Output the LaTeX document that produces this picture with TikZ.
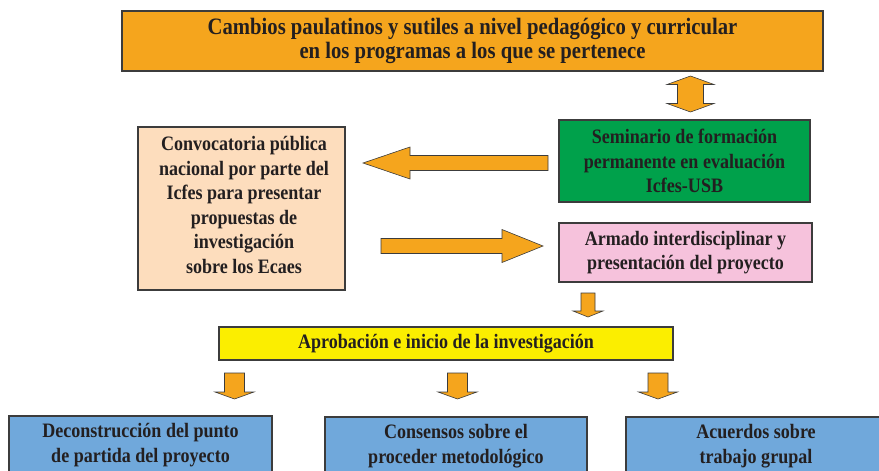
\documentclass[tikz,border=0pt]{standalone}
\usepackage{fontspec}
\setmainfont[FakeStretch=0.88]{Liberation Serif}
\usetikzlibrary{calc}
\definecolor{boxorange}{HTML}{F5A51D}
\definecolor{boxgreen}{HTML}{00A14B}
\definecolor{boxpink}{HTML}{F6C2DC}
\definecolor{boxpeach}{HTML}{FDDDBD}
\definecolor{boxyellow}{HTML}{FBEE00}
\definecolor{boxblue}{HTML}{70A8DB}
\definecolor{boxline}{HTML}{3C3C3C}
\definecolor{ink}{HTML}{231F20}
\tikzset{
  box/.style={draw=boxline, line width=1.2pt, text=ink, align=center, inner sep=0pt,
    font=\bfseries\fontsize{20.5}{24.5}\selectfont},
  % block arrow: shaft half width, head half width, head length
  fat/.style n args={3}{draw=boxline, line width=0.6pt, fill=boxorange, to path={
    -- ($(\tikztostart)!#1!90:(\tikztotarget)$)
    -- ($(\tikztotarget)!#3!(\tikztostart)!#1!-90:(\tikztostart)$)
    -- ($(\tikztotarget)!#3!(\tikztostart)!#2!-90:(\tikztostart)$)
    -- (\tikztotarget)
    -- ($(\tikztotarget)!#3!(\tikztostart)!#2!90:(\tikztostart)$)
    -- ($(\tikztotarget)!#3!(\tikztostart)!#1!90:(\tikztostart)$)
    -- ($(\tikztostart)!#1!-90:(\tikztotarget)$) -- cycle}},
  twofat/.style n args={3}{draw=boxline, line width=0.6pt, fill=boxorange, to path={
    -- ($(\tikztostart)!#3!(\tikztotarget)!#2!90:(\tikztotarget)$)
    -- ($(\tikztostart)!#3!(\tikztotarget)!#1!90:(\tikztotarget)$)
    -- ($(\tikztotarget)!#3!(\tikztostart)!#1!-90:(\tikztostart)$)
    -- ($(\tikztotarget)!#3!(\tikztostart)!#2!-90:(\tikztostart)$)
    -- (\tikztotarget)
    -- ($(\tikztotarget)!#3!(\tikztostart)!#2!90:(\tikztostart)$)
    -- ($(\tikztotarget)!#3!(\tikztostart)!#1!90:(\tikztostart)$)
    -- ($(\tikztostart)!#3!(\tikztotarget)!#1!-90:(\tikztotarget)$)
    -- ($(\tikztostart)!#3!(\tikztotarget)!#2!-90:(\tikztotarget)$) -- cycle}},
}
\begin{document}
\begin{tikzpicture}[x=1pt, y=-1pt]
    %\draw[help lines] (0,0) grid (879,471);
    \clip (0,0) rectangle (879,471);
    \node[box, fill=boxorange, minimum width=701pt, minimum height=60pt,
        font=\bfseries\fontsize{23.5}{24.5}\selectfont] (top) at (472.5,41)
        {Cambios paulatinos y sutiles a nivel pedagógico y curricular\\en los programas a los que se pertenece};
    \node[box, fill=boxgreen, minimum width=251pt, minimum height=82pt] (sem) at (684.5,161)
        {Seminario de formación\\permanente en evaluación\\Icfes-USB};
    \node[box, fill=boxpeach, minimum width=207pt, minimum height=163pt] (conv) at (241.5,208.5) {};
    \node[text=ink, align=center, font=\bfseries\fontsize{20.5}{24.5}\selectfont] (convtxt) at (244,205)
        {Convocatoria pública\\nacional por parte del\\Icfes para presentar\\propuestas de\\investigación\\sobre los Ecaes};
    \node[box, fill=boxpink, minimum width=253pt, minimum height=59pt] (arm) at (685.5,252.5)
        {Armado interdisciplinar y\\presentación del proyecto};
    \node[box, fill=boxyellow, minimum width=454pt, minimum height=33pt] (apro) at (446,343.5)
        {Aprobación e inicio de la investigación};
    \node[box, fill=boxblue, minimum width=263pt, minimum height=58pt] (dec) at (140.5,445)
        {Deconstrucción del punto\\de partida del proyecto};
    \node[box, fill=boxblue, minimum width=262pt, minimum height=58pt] (cons) at (456,446)
        {Consensos sobre el\\proceder metodológico};
    \node[box, fill=boxblue, minimum width=260pt, minimum height=58pt] (acu) at (756,446)
        {Acuerdos sobre\\trabajo grupal};
    \coordinate (d1) at (690.5,76);
    \coordinate (d2) at (690.5,112);
    \coordinate (l1) at (548,163);
    \coordinate (l2) at (363,163);
    \coordinate (r1) at (381,246);
    \coordinate (r2) at (543,246);
    \coordinate (p1) at (588,293);
    \coordinate (p2) at (588,317);
    \coordinate (a1) at (234.5,373);
    \coordinate (a2) at (234.5,399);
    \coordinate (b1) at (457.5,373);
    \coordinate (b2) at (457.5,399);
    \coordinate (c1) at (658,373);
    \coordinate (c2) at (658,399);
    \draw[twofat={13pt}{23.5pt}{8.5pt}] (d1) to (d2);
    \draw[fat={7.5pt}{16pt}{47pt}] (l1) to (l2);
    \draw[fat={7.5pt}{16.5pt}{41pt}] (r1) to (r2);
    \draw[fat={7pt}{15pt}{6pt}] (p1) to (p2);
    \draw[fat={10pt}{19.5pt}{7pt}] (a1) to (a2);
    \draw[fat={10pt}{19.5pt}{7pt}] (b1) to (b2);
    \draw[fat={10pt}{19.5pt}{7pt}] (c1) to (c2);
\end{tikzpicture}
\end{document}
